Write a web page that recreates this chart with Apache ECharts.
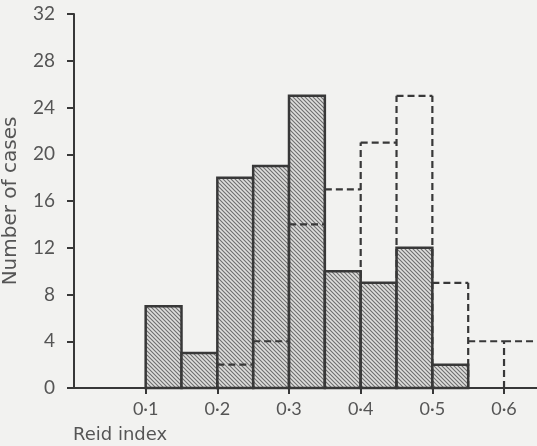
<!DOCTYPE html>
<html>
<head>
<meta charset="utf-8">
<script src="https://cdn.jsdelivr.net/npm/echarts@6/dist/echarts.min.js"></script>
<style>
    html, body { margin: 0; padding: 0; background: #f2f2f0; }
    #main { width: 537px; height: 446px; }
</style>
</head>
<body>
<div id="main"></div>
<script>
    // 数据: 每组宽 0.05
    var binStarts = [0.10, 0.15, 0.20, 0.25, 0.30, 0.35, 0.40, 0.45, 0.50, 0.55, 0.60];
    var hatchedCounts = [7, 3, 18, 19, 25, 10, 9, 12, 2, 0, 0];
    var dashedCounts = [0, 0, 2, 4, 14, 17, 21, 25, 9, 4, 4];
    var xTicks = [0.1, 0.2, 0.3, 0.4, 0.5, 0.6];
    var yTicks = [0, 4, 8, 12, 16, 20, 24, 28, 32];
    var binWidth = 0.05;

    var lineColor = '#383838';
    var textColor = '#555';

    // 斜线填充
    var hatch = document.createElement('canvas');
    hatch.width = 4;
    hatch.height = 4;
    var ctx = hatch.getContext('2d');
    ctx.fillStyle = '#dededc';
    ctx.fillRect(0, 0, 4, 4);
    ctx.strokeStyle = '#6e6e6e';
    ctx.lineWidth = 1.1;
    ctx.beginPath();
    ctx.moveTo(-1, -1); ctx.lineTo(5, 5);
    ctx.moveTo(-1, 3); ctx.lineTo(1, 5);
    ctx.moveTo(3, -1); ctx.lineTo(5, 1);
    ctx.stroke();

    var myChart = echarts.init(document.getElementById('main'));

    function hatchedItem(params, api) {
        var v = api.value(1);
        if (!v) return null;
        var x0 = api.value(0);
        var p0 = api.coord([x0, v]);
        var p1 = api.coord([x0 + binWidth, 0]);
        return {
            type: 'rect',
            shape: {x: p0[0], y: p0[1], width: p1[0] - p0[0], height: p1[1] - p0[1]},
            style: {fill: {image: hatch, repeat: 'repeat'}, stroke: lineColor, lineWidth: 2.5}
        };
    }

    function dashedItem(params, api) {
        var i = params.dataIndex;
        var v = api.value(1);
        var prev = i > 0 ? dashedCounts[i - 1] : 0;
        if (!v && !prev) return null;
        var x0 = api.value(0);
        var style = {stroke: lineColor, lineWidth: 2.2, lineDash: [7, 4], fill: null};
        var children = [];
        var base = api.coord([x0, 0]);
        var left = api.coord([x0, Math.max(v, prev)]);
        children.push({type: 'line', shape: {x1: base[0], y1: base[1], x2: left[0], y2: left[1]}, style: style});
        if (v) {
            var a = api.coord([x0, v]);
            var b = api.coord([x0 + binWidth, v]);
            children.push({type: 'line', shape: {x1: a[0], y1: a[1], x2: b[0], y2: b[1]}, style: style});
        }
        return {type: 'group', children: children};
    }

    var option = {
        backgroundColor: '#f2f2f0',
        animation: false,
        grid: {left: 74, right: 0, top: 14, bottom: 58, outerBoundsMode: 'none'},
        xAxis: {
            type: 'value',
            min: 0,
            max: 0.646,
            interval: 0.1,
            splitLine: {show: false},
            axisLine: {lineStyle: {color: lineColor, width: 2}},
            axisTick: {length: 6, customValues: xTicks, lineStyle: {color: lineColor, width: 2}},
            axisLabel: {
                color: textColor,
                fontFamily: 'Lato',
                fontSize: 18,
                margin: 12,
                customValues: xTicks,
                formatter: function (v) {
                    return '0\u00b7' + Math.round(v * 10);
                }
            }
        },
        yAxis: {
            type: 'value',
            min: 0,
            max: 32,
            interval: 4,
            name: 'Number of cases',
            nameLocation: 'middle',
            nameGap: 53,
            nameTextStyle: {color: textColor, fontFamily: 'DejaVu Sans', fontSize: 20},
            splitLine: {show: false},
            axisLine: {show: true, lineStyle: {color: lineColor, width: 2}},
            axisTick: {show: true, length: 7, customValues: yTicks, lineStyle: {color: lineColor, width: 2}},
            axisLabel: {color: textColor, fontFamily: 'Lato', fontSize: 19, margin: 19, customValues: yTicks}
        },
        graphic: [{
            type: 'text',
            left: 73,
            top: 426,
            style: {text: 'Reid index', fill: textColor, font: '18px "DejaVu Sans"'}
        }],
        series: [
            {
                type: 'custom',
                renderItem: hatchedItem,
                data: binStarts.map(function (x, i) { return [x, hatchedCounts[i]]; }),
                z: 2
            },
            {
                type: 'custom',
                renderItem: dashedItem,
                data: binStarts.map(function (x, i) { return [x, dashedCounts[i]]; }),
                z: 3
            }
        ]
    };

    myChart.setOption(option);
</script>
</body>
</html>
